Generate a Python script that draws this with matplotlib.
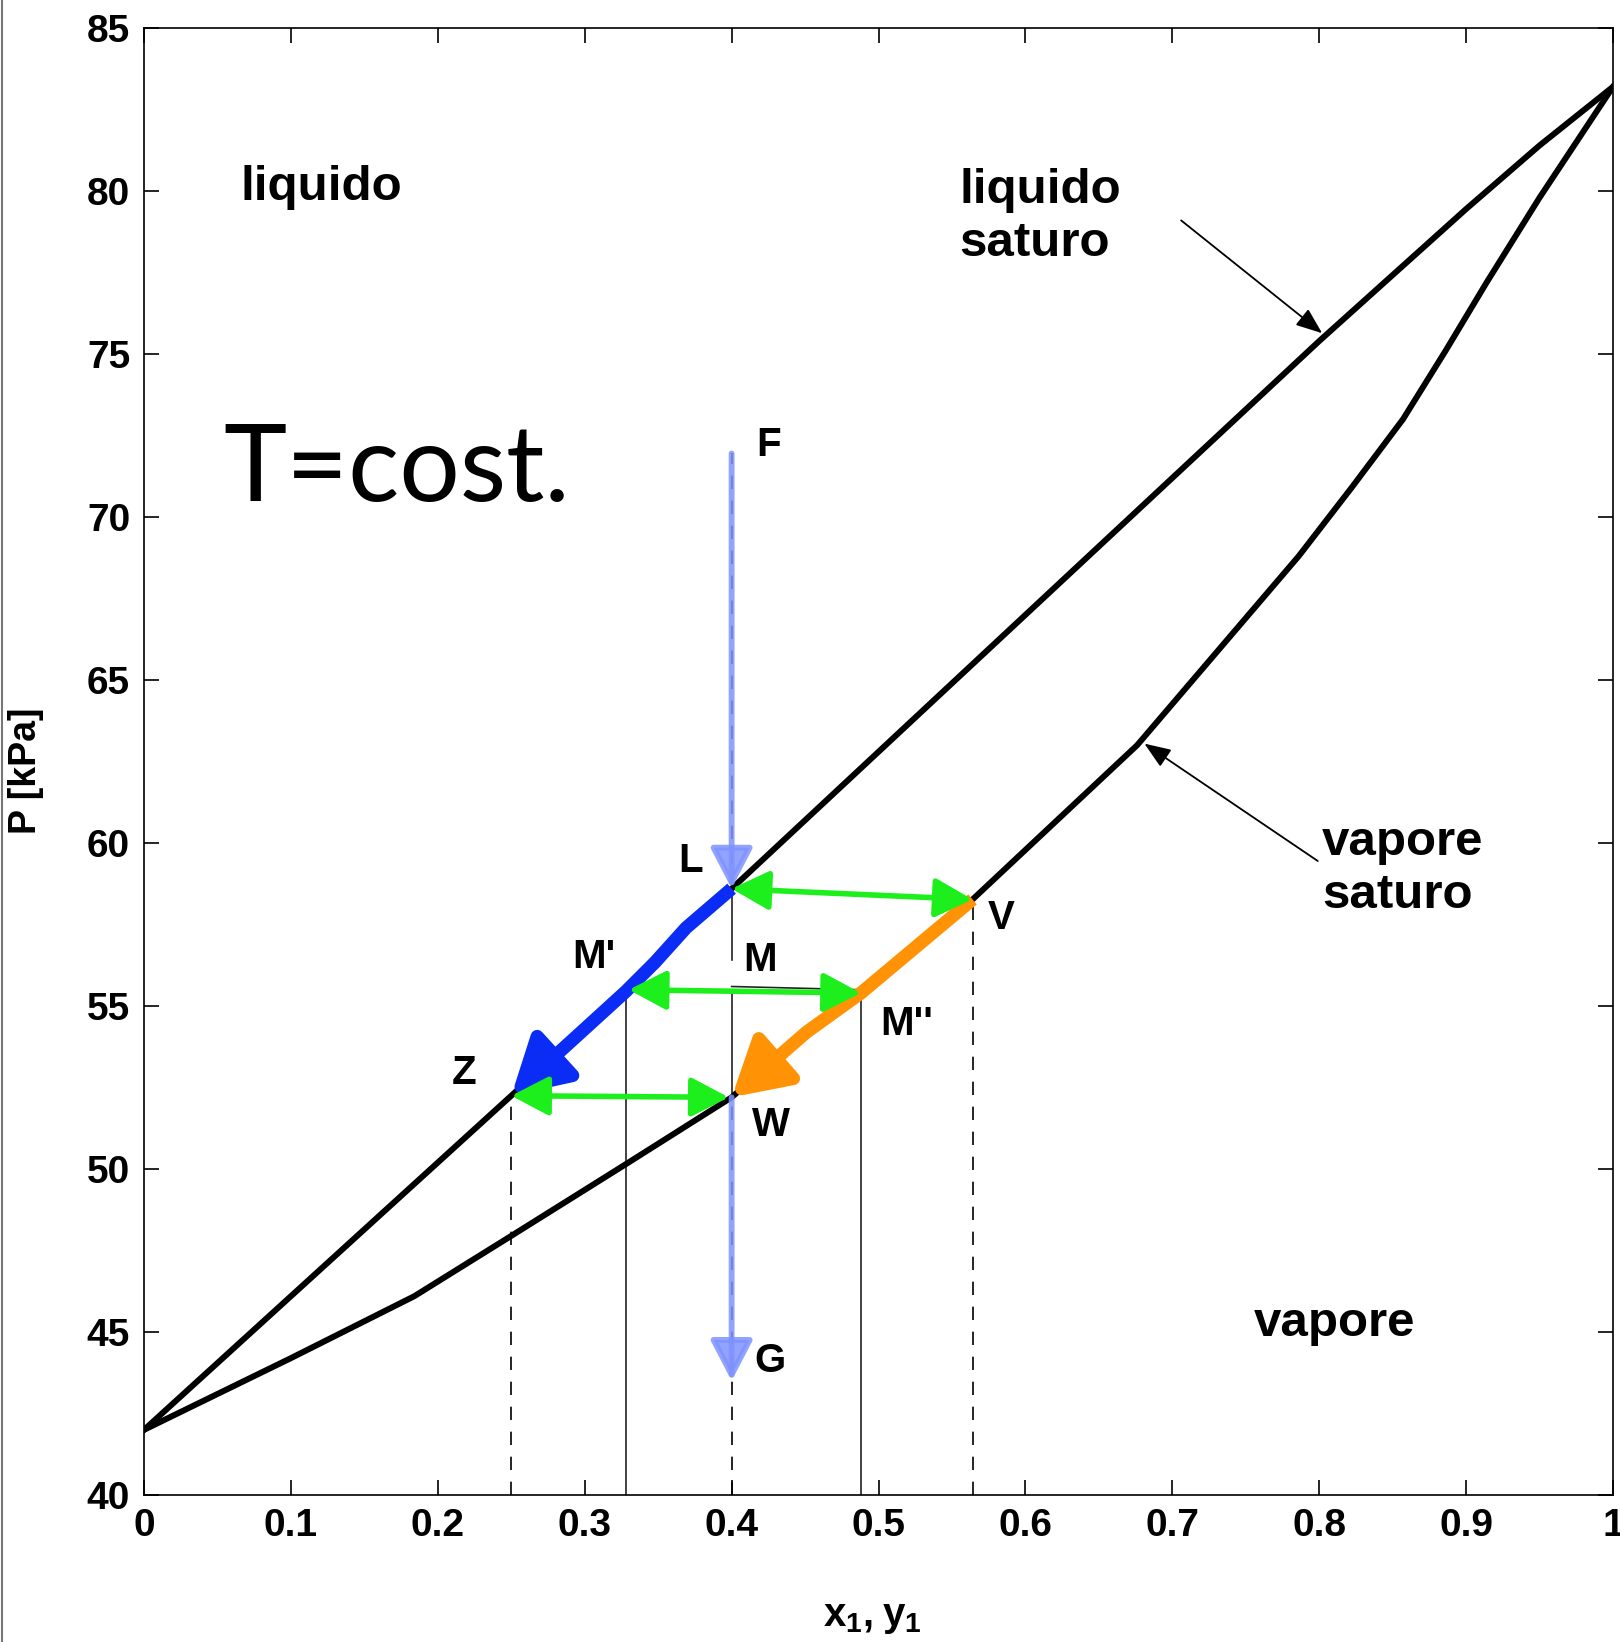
import numpy as np
import matplotlib
matplotlib.use("Agg")
import matplotlib.pyplot as plt
from matplotlib.patches import FancyArrowPatch
from matplotlib.path import Path
from matplotlib.lines import Line2D

# liquido saturo (bubble curve): x1 vs P [kPa]
x_liq = [0.0, 0.1, 0.2, 0.25, 0.3, 0.328, 0.348, 0.369, 0.4, 0.5, 0.6, 0.7, 0.8, 0.9, 0.95, 1.0]
P_liq = [42.0, 46.1, 50.2, 52.25, 54.3, 55.45, 56.35, 57.4, 58.6, 62.8, 67.0, 71.2, 75.4, 79.45, 81.4, 83.2]

# vapore saturo (dew curve): y1 vs P [kPa]
y_vap = [0.0, 0.1, 0.184, 0.25, 0.328, 0.4, 0.451, 0.488, 0.564, 0.676, 0.786, 0.822,
         0.857, 0.886, 0.914, 0.95, 1.0]
P_vap = [42.0, 44.2, 46.1, 47.95, 50.15, 52.2, 54.2, 55.4, 58.27, 63.0, 68.8, 70.9,
         73.0, 75.1, 77.2, 79.8, 83.2]

# state points (composition, P)
F = (0.40, 71.95)
L = (0.40, 58.6)
V = (0.564, 58.27)
M = (0.40, 55.5)
M1 = (0.328, 55.5)   # M'
M2 = (0.488, 55.4)   # M''
Z = (0.25, 52.25)
W = (0.40, 52.2)
G = (0.40, 43.5)

x_ticks = [0, 0.1, 0.2, 0.3, 0.4, 0.5, 0.6, 0.7, 0.8, 0.9, 1.0]
x_ticklabels = ["0", "0.1", "0.2", "0.3", "0.4", "0.5", "0.6", "0.7", "0.8", "0.9", "1"]
y_ticks = [40, 45, 50, 55, 60, 65, 70, 75, 80, 85]

plt.rcParams["font.family"] = ["Liberation Sans", "DejaVu Sans"]
plt.rcParams["font.weight"] = "bold"
plt.rcParams["mathtext.fontset"] = "custom"
plt.rcParams["mathtext.bf"] = "Liberation Sans:bold"
plt.rcParams["mathtext.rm"] = "Liberation Sans:bold"

fig = plt.figure(figsize=(16.2, 16.42), dpi=100)
ax = fig.add_axes([0.0889, 0.0895, 0.9068, 0.8934])
ax.set_xlim(0, 1)
ax.set_ylim(40, 85)

BLUE = "#0b2cf4"
ORANGE = "#ff9305"
GREEN = "#1cef1c"
LBLUE = "#7f93ff"

# phase envelope
ax.plot(x_liq, P_liq, color="black", lw=4.3, zorder=3, solid_joinstyle="round")
ax.plot(y_vap, P_vap, color="black", lw=4.3, zorder=3, solid_joinstyle="round")

# vertical construction lines
dash = dict(color="black", lw=1.2, dashes=(8, 7), zorder=2)
ax.plot([Z[0], Z[0]], [40, Z[1]], **dash)
ax.plot([V[0], V[0]], [40, V[1]], **dash)
ax.plot([F[0], F[0]], [40, W[1]], **dash)
ax.plot([F[0], F[0]], [L[1], F[1]], **dash)
thin = dict(color="#222222", lw=1.2, zorder=2)
ax.plot([M1[0], M1[0]], [40, M1[1]], **thin)
ax.plot([M2[0], M2[0]], [40, M2[1]], **thin)
ax.plot([L[0], L[0]], [56.4, L[1]], **thin)
ax.plot([M[0], M[0]], [W[1], M[1]], **thin)
ax.plot([M[0], M2[0]], [M[1] + 0.1, M2[1] + 0.1], **thin)


def curve_arrow(xs, ps, color, lw, hl, hw, z):
    path = Path(np.column_stack([xs, ps]))
    arr = FancyArrowPatch(path=path, arrowstyle=f"-|>,head_length={hl},head_width={hw}",
                          color=color, lw=lw, zorder=z, mutation_scale=1,
                          joinstyle="round", capstyle="butt")
    ax.add_patch(arr)


def straight_arrow(p0, p1, style, color, lw, z, alpha=1.0):
    arr = FancyArrowPatch(p0, p1, arrowstyle=style, color=color, lw=lw, zorder=z,
                          mutation_scale=1, shrinkA=0, shrinkB=0, alpha=alpha)
    ax.add_patch(arr)


# blue: liquid path L -> Z along bubble curve
xl = np.array(x_liq)
pl = np.array(P_liq)
sel = (xl >= Z[0]) & (xl <= L[0])
curve_arrow(xl[sel][::-1], pl[sel][::-1], BLUE, 9.5, 33, 19, 4)

# orange: vapour path V -> W along dew curve
xv = np.array(y_vap)
pv = np.array(P_vap)
sel = (xv >= W[0]) & (xv <= V[0])
curve_arrow(xv[sel][::-1], pv[sel][::-1], ORANGE, 9.5, 33, 19, 4)

# green tie lines
tie = "<|-|>,head_length=23,head_width=12"
straight_arrow(L, V, tie, GREEN, 4.0, 5)
straight_arrow((M1[0] + 0.002, M1[1]), M2, tie, GREEN, 4.0, 5)
straight_arrow(Z, (W[0] - 0.002, W[1]), tie, GREEN, 4.0, 5)

# light blue isothermal pressure changes
vert = "-|>,head_length=25,head_width=13"
straight_arrow(F, L, vert, LBLUE, 4.2, 6, alpha=0.85)
straight_arrow(W, G, vert, LBLUE, 4.2, 6, alpha=0.85)

# thin annotation arrows
ax.annotate("", xy=(0.802, 75.64), xytext=(0.706, 79.1),
            arrowprops=dict(arrowstyle="-|>,head_length=0.9,head_width=0.35",
                            color="black", lw=1.3, shrinkA=0, shrinkB=0, mutation_scale=18))
ax.annotate("", xy=(0.681, 63.05), xytext=(0.799, 59.45),
            arrowprops=dict(arrowstyle="-|>,head_length=0.9,head_width=0.35",
                            color="black", lw=1.3, shrinkA=0, shrinkB=0, mutation_scale=18))

# region / curve labels
big = dict(fontsize=35.5, fontweight="bold", va="center", ha="left", zorder=7)
ax.text(0.066, 80.1, "liquido", **big)
ax.text(0.555, 79.2, "liquido\nsaturo", linespacing=1.22, **big)
ax.text(0.802, 59.2, "vapore\nsaturo", linespacing=1.22, **big)
ax.text(0.7555, 45.25, "vapore", **big)

ax.text(0.054, 70.5, "T=cost.", family="Lato", fontweight="normal", fontsize=77,
        va="baseline", ha="left")

pt = dict(fontsize=29, fontweight="bold", va="center", ha="left", zorder=7)
ax.text(0.417, 72.2, "F", **pt)
ax.text(0.364, 59.45, "L", **pt)
ax.text(0.2915, 56.5, "M'", **pt)
ax.text(0.408, 56.4, "M", **pt)
ax.text(0.501, 54.45, "M''", **pt)
ax.text(0.5745, 57.7, "V", **pt)
ax.text(0.2095, 52.95, "Z", **pt)
ax.text(0.414, 51.35, "W", **pt)
ax.text(0.4155, 44.1, "G", **pt)

# axes styling
ax.set_xticks(x_ticks)
ax.set_xticklabels(x_ticklabels)
ax.set_yticks(y_ticks)
ax.tick_params(direction="in", length=11, width=1.2, top=True, right=True,
               labelsize=28, color="black")
ax.tick_params(axis="x", pad=9)
ax.tick_params(axis="y", pad=10)
for s in ax.spines.values():
    s.set_linewidth(1.2)

ax.set_ylabel("P [kPa]", fontsize=27, fontweight="bold")
ax.yaxis.set_label_coords(-0.068, 0.494)
ax.set_xlabel(r"$\mathbf{x_1, y_1}$", fontsize=29)
ax.xaxis.set_label_coords(0.496, -0.07)

# thin grey border at the left edge of the picture
fig.add_artist(Line2D([0.0012, 0.0012], [0, 1], transform=fig.transFigure,
                      color="#777777", lw=1.5))

fig.savefig("out.png", dpi=100)
